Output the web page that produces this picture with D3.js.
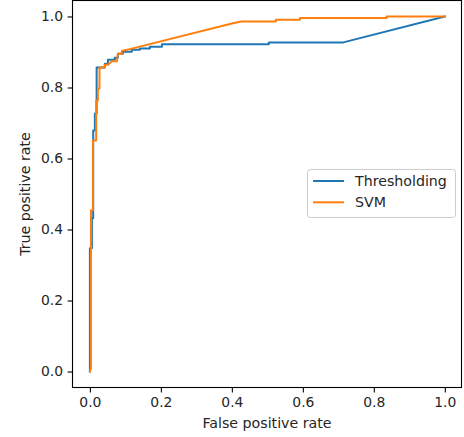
<!DOCTYPE html>
<html>
<head>
<meta charset="utf-8">
<script src="https://cdn.jsdelivr.net/npm/d3@7"></script>
<style>
  html, body { margin: 0; padding: 0; background: #fff; }
  svg { display: block; font-family: "DejaVu Sans", sans-serif; }
</style>
</head>
<body>
<svg id="chart" width="464" height="437"></svg>
<script>
// ROC curve points: false positive rate (x) and true positive rate (y)
const thresholdingFpr = [0, 0, 0.0056, 0.0056, 0.0093, 0.0093, 0.014, 0.014, 0.019, 0.019, 0.042, 0.042, 0.051, 0.051, 0.070, 0.070, 0.079, 0.079, 0.093, 0.093, 0.118, 0.118, 0.141, 0.141, 0.169, 0.169, 0.203, 0.203, 0.504, 0.504, 0.714, 1.0];
const thresholdingTpr = [0, 0.347, 0.347, 0.432, 0.432, 0.679, 0.679, 0.727, 0.727, 0.856, 0.856, 0.867, 0.867, 0.878, 0.878, 0.884, 0.884, 0.895, 0.895, 0.901, 0.901, 0.906, 0.906, 0.910, 0.910, 0.915, 0.915, 0.922, 0.922, 0.927, 0.927, 1.0];

const svmFpr = [0, 0.003, 0.003, 0.0085, 0.0085, 0.0177, 0.0177, 0.0225, 0.0225, 0.027, 0.027, 0.042, 0.042, 0.051, 0.062, 0.076, 0.079, 0.090, 0.090, 0.104, 0.403, 0.427, 0.524, 0.524, 0.592, 0.592, 0.836, 0.836, 1.0];
const svmTpr = [0, 0.01, 0.454, 0.454, 0.651, 0.651, 0.763, 0.763, 0.797, 0.797, 0.856, 0.856, 0.864, 0.864, 0.874, 0.874, 0.895, 0.895, 0.903, 0.906, 0.981, 0.986, 0.986, 0.991, 0.991, 0.996, 0.996, 1.0, 1.0];

const seriesNames = ["Thresholding", "SVM"];
const seriesColors = ["#1f77b4", "#ff7f0e"];
const tickValues = [0, 0.2, 0.4, 0.6, 0.8, 1.0];
const xTitle = "False positive rate";
const yTitle = "True positive rate";

const svg = d3.select("#chart");

const plot = { left: 72.5, right: 461.5, top: 0.5, bottom: 387.5 };

const x = d3.scaleLinear().domain([-0.049, 1.047]).range([plot.left, plot.right]);
const y = d3.scaleLinear().domain([-0.045, 1.045]).range([plot.bottom, plot.top]);

const fmt = d3.format(".1f");

// Axes
const xAxis = d3.axisBottom(x).tickValues(tickValues).tickFormat(fmt).tickSize(4.9).tickPadding(4.5);
const yAxis = d3.axisLeft(y).tickValues(tickValues).tickFormat(fmt).tickSize(4.9).tickPadding(4.5);

const gx = svg.append("g").attr("transform", `translate(0,${plot.bottom})`).call(xAxis);
const gy = svg.append("g").attr("transform", `translate(${plot.left},0)`).call(yAxis);
[gx, gy].forEach(g => {
  g.select(".domain").remove();
  g.selectAll(".tick line").attr("stroke", "#000").attr("stroke-width", 1.1);
  g.selectAll(".tick text")
    .attr("fill", "#262626")
    .style("font-family", "'DejaVu Sans', sans-serif")
    .style("font-size", "13.9px");
});

// Curves
const line = d3.line().x(d => x(d[0])).y(d => y(d[1]));
const series = [
  d3.zip(thresholdingFpr, thresholdingTpr),
  d3.zip(svmFpr, svmTpr)
];

svg.append("defs").append("clipPath").attr("id", "plot-clip")
  .append("rect")
  .attr("x", plot.left).attr("y", plot.top)
  .attr("width", plot.right - plot.left).attr("height", plot.bottom - plot.top);

svg.append("g").attr("clip-path", "url(#plot-clip)")
  .selectAll("path.curve")
  .data(series)
  .join("path")
  .attr("class", "curve")
  .attr("d", line)
  .attr("fill", "none")
  .attr("stroke", (d, i) => seriesColors[i])
  .attr("stroke-width", 2)
  .attr("stroke-linejoin", "round")
  .attr("stroke-linecap", "square");

// Frame
svg.append("rect")
  .attr("x", plot.left).attr("y", plot.top)
  .attr("width", plot.right - plot.left).attr("height", plot.bottom - plot.top)
  .attr("fill", "none").attr("stroke", "#000").attr("stroke-width", 1.1);

// Axis titles
svg.append("text")
  .attr("x", (plot.left + plot.right) / 2).attr("y", 428)
  .attr("text-anchor", "middle")
  .attr("fill", "#262626")
  .style("font-size", "14.2px")
  .text(xTitle);

svg.append("text")
  .attr("transform", `translate(30,${(plot.top + plot.bottom) / 2}) rotate(-90)`)
  .attr("text-anchor", "middle")
  .attr("fill", "#262626")
  .style("font-size", "14.2px")
  .text(yTitle);

// Legend
const legend = svg.append("g").attr("transform", "translate(307.5,169.5)");
legend.append("rect")
  .attr("width", 148).attr("height", 48)
  .attr("rx", 3).attr("ry", 3)
  .attr("fill", "#fff").attr("fill-opacity", 0.8)
  .attr("stroke", "#cccccc").attr("stroke-width", 1);

const items = legend.selectAll("g.item")
  .data(seriesNames)
  .join("g")
  .attr("class", "item")
  .attr("transform", (d, i) => `translate(0,${11.5 + i * 21.3})`);

items.append("line")
  .attr("x1", 5.5).attr("x2", 36.5)
  .attr("stroke", (d, i) => seriesColors[i])
  .attr("stroke-width", 2);

items.append("text")
  .attr("x", 47.5).attr("y", 0)
  .attr("dy", "0.36em")
  .attr("fill", "#262626")
  .style("font-size", "14.2px")
  .text(d => d);
</script>
</body>
</html>
